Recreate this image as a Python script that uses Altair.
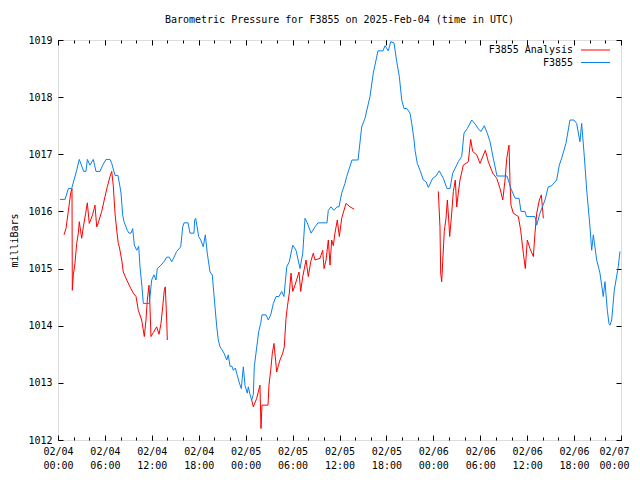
import altair as alt
import pandas as pd

# hours since 2025-02-04 00:00 UTC and pressure (mb)
blue_h = [0.26, 0.9, 1.32, 1.75, 2.39, 2.72, 3.29, 3.58, 3.75, 4.09,
          4.51, 4.86, 5.37, 5.72, 6.14, 6.65, 6.87, 7.29, 7.67, 7.93,
          8.06, 8.27, 8.44, 8.86, 9.08, 9.34, 9.55, 9.76, 10.07, 10.32,
          10.49, 10.74, 10.91, 11.68, 11.98, 12.28, 12.53, 12.70, 13.17, 13.56,
          13.90, 14.23, 14.54, 14.84, 15.18, 15.69, 15.95, 16.12, 16.63, 16.88,
          17.39, 17.48, 17.61, 17.99, 18.25, 18.58, 18.84, 19.09, 19.44, 19.73,
          20.08, 20.30, 20.50, 20.72, 20.97, 21.23, 21.58, 21.78, 22.00, 22.25,
          22.42, 22.68, 22.89, 23.19, 23.44, 23.70, 23.92, 24.21, 24.34, 24.55,
          24.77, 24.98, 25.10, 25.32, 25.67, 25.92, 26.09, 26.60, 26.90, 27.20,
          27.54, 27.88, 28.26, 28.61, 28.90, 29.25, 29.58, 30.02, 30.44, 30.95,
          31.30, 31.59, 31.88, 32.36, 32.87, 33.25, 34.40, 34.57, 34.91, 35.30,
          35.68, 35.94, 36.28, 36.70, 36.92, 37.60, 38.37, 38.84, 39.26, 39.90,
          40.32, 40.92, 41.56, 41.82, 42.24, 42.55, 42.97, 43.32, 43.65, 43.96,
          44.25, 44.63, 45.02, 45.24, 45.53, 45.66, 45.95, 46.30, 46.72, 47.06,
          47.36, 47.92, 48.34, 48.76, 49.28, 49.75, 50.13, 50.48, 50.99, 51.19,
          51.63, 51.92, 52.35, 52.91, 53.46, 53.71, 54.10, 54.52, 54.90, 55.25,
          55.67, 56.14, 57.42, 57.93, 58.45, 58.96, 59.21, 59.72, 59.92, 61.00,
          61.22, 61.64, 62.28, 62.70, 63.13, 63.77, 64.11, 64.41, 64.96, 65.47,
          65.98, 66.33, 66.75, 66.97, 67.31, 67.61, 68.03, 68.25, 68.46, 68.89,
          69.31, 69.73, 69.95, 70.25, 70.46, 70.59, 70.81, 71.14, 71.65, 71.87]
blue_p = [1016.21, 1016.21, 1016.40, 1016.40, 1016.72, 1016.91, 1016.70, 1016.70, 1016.91, 1016.81,
          1016.91, 1016.70, 1016.70, 1016.81, 1016.91, 1016.91, 1016.84, 1016.63, 1016.63, 1016.43,
          1016.32, 1015.94, 1015.82, 1015.67, 1015.62, 1015.62, 1015.70, 1015.41, 1015.32, 1015.39,
          1015.03, 1014.68, 1014.39, 1014.39, 1014.80, 1014.89, 1014.80, 1015.00, 1015.06, 1015.12,
          1015.20, 1015.20, 1015.12, 1015.20, 1015.30, 1015.38, 1015.73, 1015.80, 1015.80, 1015.62,
          1015.62, 1015.85, 1015.88, 1015.56, 1015.50, 1015.38, 1015.59, 1015.27, 1014.94, 1014.89,
          1014.33, 1013.98, 1013.75, 1013.63, 1013.58, 1013.52, 1013.40, 1013.49, 1013.29, 1013.29,
          1013.22, 1013.26, 1013.15, 1013.00, 1012.90, 1013.28, 1012.95, 1012.82, 1012.93, 1012.80,
          1012.70, 1012.80, 1013.28, 1013.52, 1013.90, 1014.04, 1014.19, 1014.19, 1014.10, 1014.19,
          1014.39, 1014.51, 1014.51, 1014.60, 1014.51, 1015.03, 1015.12, 1015.41, 1015.32, 1015.00,
          1015.27, 1015.88, 1015.80, 1015.62, 1015.73, 1015.80, 1015.80, 1016.02, 1016.08, 1016.02,
          1016.08, 1016.08, 1016.32, 1016.49, 1016.61, 1016.90, 1016.90, 1017.48, 1017.63, 1018.01,
          1018.42, 1018.81, 1018.81, 1018.90, 1018.81, 1018.97, 1018.95, 1018.62, 1018.36, 1017.95,
          1017.80, 1017.80, 1017.72, 1017.54, 1017.25, 1017.07, 1016.84, 1016.72, 1016.55, 1016.52,
          1016.42, 1016.58, 1016.62, 1016.71, 1016.58, 1016.40, 1016.40, 1016.67, 1016.81, 1016.87,
          1016.96, 1017.37, 1017.45, 1017.60, 1017.51, 1017.45, 1017.40, 1017.50, 1017.37, 1017.22,
          1016.93, 1016.62, 1016.62, 1016.40, 1016.23, 1016.23, 1016.00, 1016.00, 1015.91, 1015.91,
          1015.76, 1015.97, 1016.20, 1016.43, 1016.45, 1016.55, 1016.81, 1016.93, 1017.19, 1017.60,
          1017.60, 1017.54, 1017.22, 1017.54, 1016.96, 1016.38, 1015.73, 1015.32, 1015.59, 1015.15,
          1014.92, 1014.51, 1014.77, 1014.27, 1014.04, 1014.01, 1014.10, 1014.62, 1015.03, 1015.30]

red1_h = [0.77, 1.02, 1.32, 1.62, 1.79, 1.83, 1.96, 2.17, 2.39, 2.60,
          2.72, 2.90, 3.03, 3.24, 3.54, 3.75, 4.00, 4.18, 4.44, 4.73,
          4.95, 5.15, 5.59, 6.01, 6.30, 6.65, 6.87, 7.07, 7.29, 7.51,
          7.71, 7.84, 8.15, 8.35, 8.79, 9.21, 9.63, 9.98, 10.27, 10.70,
          11.04, 11.25, 11.42, 11.64, 11.73, 11.89, 12.19, 12.62, 12.92, 13.17,
          13.39, 13.59, 13.72, 13.90, 13.98]
red1_p = [1015.59, 1015.70, 1016.00, 1016.32, 1016.40, 1014.62, 1014.89, 1015.09, 1015.44, 1015.62,
          1015.82, 1015.65, 1015.53, 1015.73, 1015.97, 1016.15, 1015.79, 1015.85, 1015.95, 1016.11,
          1015.73, 1015.80, 1016.00, 1016.26, 1016.43, 1016.61, 1016.70, 1016.45, 1015.97, 1015.67,
          1015.44, 1015.38, 1015.15, 1014.94, 1014.80, 1014.68, 1014.57, 1014.51, 1014.27, 1014.10,
          1013.81, 1014.10, 1014.45, 1014.71, 1014.45, 1013.81, 1013.88, 1013.98, 1013.85, 1014.04,
          1014.33, 1014.62, 1014.68, 1014.10, 1013.75]

red2_h = [24.77, 24.98, 25.41, 25.83, 25.96, 26.09, 26.86, 26.98, 27.20, 27.41,
          27.62, 27.97, 28.18, 28.39, 28.74, 28.94, 29.16, 29.33, 29.58, 29.80,
          30.02, 30.31, 30.82, 31.04, 31.30, 31.72, 32.01, 32.32, 32.65, 32.87,
          33.51, 33.85, 34.02, 34.28, 34.57, 34.79, 35.00, 35.21, 35.42, 35.72,
          35.98, 36.28, 36.83, 37.34, 37.86]
red2_p = [1012.70, 1012.58, 1012.73, 1012.96, 1012.20, 1012.61, 1012.61, 1012.96, 1013.22, 1013.52,
          1013.69, 1013.19, 1013.30, 1013.40, 1013.52, 1013.63, 1014.13, 1014.33, 1014.57, 1014.92,
          1014.60, 1014.71, 1014.94, 1014.60, 1014.86, 1015.15, 1014.86, 1015.12, 1015.27, 1015.15,
          1015.18, 1015.32, 1015.00, 1015.15, 1015.50, 1015.06, 1015.50, 1015.40, 1015.62, 1015.85,
          1015.56, 1015.88, 1016.14, 1016.08, 1016.04]

red3_h = [48.64, 48.85, 48.94, 49.07, 49.20, 49.40, 49.62, 49.79, 49.97, 50.09,
          50.35, 50.56, 50.81, 50.99, 51.19, 51.41, 51.83, 52.47, 52.78, 53.03,
          53.55, 53.97, 54.65, 55.03, 55.60, 56.11, 56.53, 56.88, 57.17, 57.39,
          57.68, 57.81, 57.93, 58.23, 58.87, 59.17, 59.51, 59.76, 60.02, 60.36,
          60.79, 61.00, 61.22, 61.56, 61.81, 62.07]
red3_p = [1016.35, 1015.73, 1014.92, 1014.77, 1015.12, 1015.65, 1015.88, 1016.20, 1015.85, 1015.56,
          1015.97, 1016.35, 1016.55, 1016.08, 1016.32, 1016.55, 1016.81, 1016.87, 1017.26, 1017.05,
          1016.99, 1016.84, 1017.07, 1016.87, 1016.67, 1016.58, 1016.40, 1016.20, 1016.55, 1016.93,
          1017.16, 1016.49, 1016.11, 1015.97, 1015.91, 1015.67, 1015.27, 1015.00, 1015.50, 1015.35,
          1015.21, 1015.62, 1015.97, 1016.20, 1016.29, 1015.88]

major_hours = list(range(0, 73, 6))
minor_hours = list(range(0, 73, 2))
y_ticks = [1012, 1013, 1014, 1015, 1016, 1017, 1018, 1019]

blue_df = pd.DataFrame({"h": blue_h, "p": blue_p})
red_df = pd.concat([
    pd.DataFrame({"h": red1_h, "p": red1_p, "seg": 1}),
    pd.DataFrame({"h": red2_h, "p": red2_p, "seg": 2}),
    pd.DataFrame({"h": red3_h, "p": red3_p, "seg": 3}),
])

W, H = 563, 400
FONT = "DejaVu Sans Mono"
BLUE = "#0a80f0"
RED = "#ff0000"

xs = alt.Scale(domain=[0, 72], nice=False, zero=False)
ys = alt.Scale(domain=[1012, 1019], nice=False, zero=False)

red_line = alt.Chart(red_df).mark_line(color=RED, strokeWidth=1).encode(
    x=alt.X("h:Q", scale=xs, axis=None),
    y=alt.Y("p:Q", scale=ys, axis=None),
    detail="seg:N",
)
blue_line = alt.Chart(blue_df).mark_line(color=BLUE, strokeWidth=1).encode(
    x=alt.X("h:Q", scale=xs, axis=None),
    y=alt.Y("p:Q", scale=ys, axis=None),
)


def xaxis_layer(axis):
    return alt.Chart(blue_df).mark_point(opacity=0).encode(
        x=alt.X("h:Q", scale=xs, axis=axis),
        y=alt.Y("p:Q", scale=ys, axis=None),
    )


def yaxis_layer(axis):
    return alt.Chart(blue_df).mark_point(opacity=0).encode(
        x=alt.X("h:Q", scale=xs, axis=None),
        y=alt.Y("p:Q", scale=ys, axis=axis),
    )


tick_common = dict(labels=False, domain=False, grid=False, ticks=True,
                   tickColor="black", tickWidth=1, title=None)

LABEL_EXPR = ("['02/0' + (4 + floor(datum.value / 24)), "
              "((datum.value % 24) < 10 ? '0' : '') + (datum.value % 24) + ':00']")
label_common = dict(orient="bottom", ticks=False, domain=False, grid=False,
                    title=None, labelFont=FONT, labelFontSize=10, labelColor="black",
                    labelPadding=6, labelLineHeight=14, labelFlush=False,
                    labelOverlap=False, labelExpr=LABEL_EXPR)

x_labels = xaxis_layer(alt.Axis(values=major_hours[:-1], **label_common))
x_label_last = xaxis_layer(alt.Axis(values=major_hours[-1:], labelOffset=-7, **label_common))
x_bot_major = xaxis_layer(alt.Axis(orient="top", offset=-H, values=major_hours, tickSize=5, **tick_common))
x_bot_minor = xaxis_layer(alt.Axis(orient="top", offset=-H, values=minor_hours, tickSize=3, **tick_common))
x_top_major = xaxis_layer(alt.Axis(orient="bottom", offset=-H, values=major_hours, tickSize=5, **tick_common))
x_top_minor = xaxis_layer(alt.Axis(orient="bottom", offset=-H, values=minor_hours, tickSize=3, **tick_common))

y_labels = yaxis_layer(alt.Axis(
    orient="left", values=y_ticks, ticks=False, domain=False, grid=False,
    format="d", labelFont=FONT, labelFontSize=10, labelColor="black", labelPadding=6,
    title="milliBars", titleFont=FONT, titleFontSize=10, titleFontWeight="normal",
    titleColor="black", titlePadding=8,
))
y_left_ticks = yaxis_layer(alt.Axis(orient="right", offset=-W, values=y_ticks, tickSize=5, **tick_common))
y_right_ticks = yaxis_layer(alt.Axis(orient="left", offset=-W, values=y_ticks, tickSize=5, **tick_common))

legend_names = ["F3855 Analysis", "F3855"]
legend_colors = [RED, BLUE]
legend_y = [10, 22.5]
legend_layers = []
for name, col, ly in zip(legend_names, legend_colors, legend_y):
    ldf = pd.DataFrame({"label": [name]})
    legend_layers.append(
        alt.Chart(ldf).mark_text(align="right", baseline="middle", font=FONT,
                                 fontSize=10, color="black").encode(
            text="label:N", x=alt.value(515), y=alt.value(ly))
    )
    legend_layers.append(
        alt.Chart(ldf).mark_rule(color=col, strokeWidth=1).encode(
            x=alt.value(523), x2=alt.value(552), y=alt.value(ly))
    )

chart = alt.layer(
    red_line, blue_line,
    x_labels, x_label_last, x_bot_major, x_bot_minor, x_top_major, x_top_minor,
    y_labels, y_left_ticks, y_right_ticks,
    *legend_layers,
).resolve_axis(x="independent", y="independent").properties(
    width=W, height=H,
    title=alt.TitleParams("Barometric Pressure for F3855 on 2025-Feb-04 (time in UTC)",
                          font=FONT, fontSize=10, fontWeight="normal", color="black",
                          anchor="middle", frame="group", offset=10),
    autosize=alt.AutoSizeParams(type="none"),
    padding={"left": 50, "top": 32, "right": 11, "bottom": 32},
).configure_view(stroke="black", strokeWidth=1).configure(background="white")

chart.save("out.html", embed_options={"renderer": "svg", "actions": False})
